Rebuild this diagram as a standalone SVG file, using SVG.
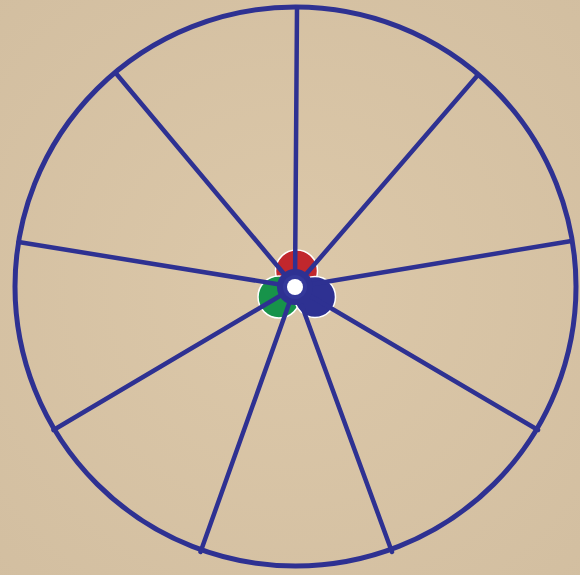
<svg xmlns="http://www.w3.org/2000/svg" width="580" height="575" viewBox="0 0 580 575">
  <defs>
    <radialGradient id="bg" cx="50%" cy="50%" r="75%">
      <stop offset="0" stop-color="#dcc8a9"/>
      <stop offset="1" stop-color="#d2bea0"/>
    </radialGradient>
    <style>
      .ln { stroke: #2e3192; fill: none; stroke-linecap: round; }
      .spoke { stroke-width: 4.5; }
      .blob { stroke: #ffffff; stroke-width: 1.5; }
    </style>
  </defs>
  <rect width="580" height="575" fill="url(#bg)"/>

  <g id="hub-petals">
    <circle cx="296.5" cy="271" r="21" fill="#c1272d" class="blob"/>
    <circle cx="279" cy="297" r="21" fill="#17934a" class="blob"/>
    <circle cx="315" cy="297" r="20.5" fill="#2e3192" class="blob"/>
  </g>

  <g id="spokes">
    <line class="ln spoke" x1="295" y1="287" x2="297" y2="8"/>
    <line class="ln spoke" x1="295" y1="287" x2="116.5" y2="74"/>
    <line class="ln spoke" x1="295" y1="287" x2="477" y2="76"/>
    <line class="ln spoke" x1="295" y1="287" x2="18.5" y2="242"/>
    <line class="ln spoke" x1="295" y1="287" x2="571.5" y2="241"/>
    <line class="ln spoke" x1="295" y1="287" x2="53.5" y2="430"/>
    <line class="ln spoke" x1="295" y1="287" x2="538" y2="430"/>
    <line class="ln spoke" x1="295" y1="287" x2="200.5" y2="552"/>
    <line class="ln spoke" x1="295" y1="287" x2="392" y2="552"/>
  </g>

  <g id="rim">
    <ellipse class="ln" cx="295.5" cy="286.5" rx="280.5" ry="279.5" stroke-width="5"/>
  </g>

  <g id="hub">
    <circle cx="295" cy="287" r="18" fill="#2e3192"/>
    <circle cx="295" cy="287" r="12" fill="#34389a"/>
    <circle cx="295" cy="287" r="8" fill="#ffffff"/>
  </g>
</svg>
